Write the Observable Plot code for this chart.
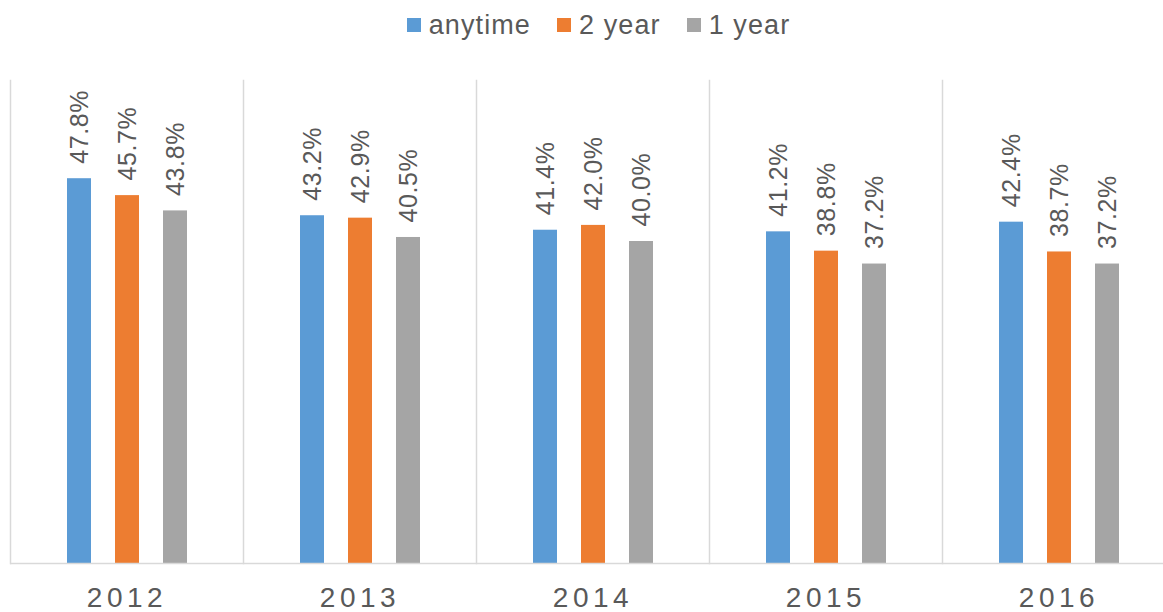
<!DOCTYPE html>
<html>
<head>
<meta charset="utf-8">
<script src="https://cdn.jsdelivr.net/npm/d3@7"></script>
<script src="https://cdn.jsdelivr.net/npm/@observablehq/plot@0.6"></script>
<style>
  html, body { margin: 0; padding: 0; background: #fff; overflow: hidden; }
  body { width: 1163px; height: 612px; font-family: "Liberation Sans", Arial, sans-serif; }
  #legend { height: 50px; display: flex; justify-content: center; align-items: center; color: #595959; font-size: 27px; letter-spacing: 1.1px; padding-left: 34px; box-sizing: border-box; }
  #legend .item { display: flex; align-items: center; margin: 0 13px; }
  #legend .sw { width: 14px; height: 14px; margin-right: 8px; }
  #chart svg { display: block; overflow: visible; }
  #chart g[aria-label="fx-axis tick label"] text { letter-spacing: 4.5px; }
  #chart g[aria-label="text"] text { letter-spacing: 0.6px; }
</style>
</head>
<body>
<div id="legend"></div>
<div id="chart"></div>
<script>
const years = ["2012", "2013", "2014", "2015", "2016"];
const seriesNames = ["anytime", "2 year", "1 year"];
const colors = ["#5B9BD5", "#ED7D31", "#A5A5A5"];
const anytime = [47.8, 43.2, 41.4, 41.2, 42.4];
const twoYear = [45.7, 42.9, 42.0, 38.8, 38.7];
const oneYear = [43.8, 40.5, 40.0, 37.2, 37.2];

const seriesValues = [anytime, twoYear, oneYear];
const data = [];
years.forEach((yr, i) => {
  seriesNames.forEach((s, j) => {
    data.push({year: yr, series: s, value: seriesValues[j][i]});
  });
});

// legend
const legend = document.getElementById("legend");
seriesNames.forEach((s, j) => {
  const item = document.createElement("div");
  item.className = "item";
  const sw = document.createElement("span");
  sw.className = "sw";
  sw.style.background = colors[j];
  const t = document.createElement("span");
  t.textContent = s;
  item.appendChild(sw);
  item.appendChild(t);
  legend.appendChild(item);
});

const chart = Plot.plot({
  width: 1163,
  height: 562,
  marginLeft: 9,
  marginRight: -12,
  marginTop: 30,
  marginBottom: 49,
  style: {fontFamily: "'Liberation Sans', Arial, sans-serif", background: "transparent"},
  fx: {domain: years, padding: 0, axis: null},
  x: {domain: seriesNames, axis: null, paddingInner: 0.505, paddingOuter: 1.15},
  y: {domain: [0, 60], axis: null},
  color: {domain: seriesNames, range: colors},
  marks: [
    Plot.frame({anchor: "left", stroke: "#d9d9d9", strokeWidth: 1.5}),
    Plot.barY(data, {fx: "year", x: "series", y: "value", fill: "series"}),
    Plot.ruleY([0], {stroke: "#d9d9d9", strokeWidth: 1.5}),
    Plot.text(data, {
      fx: "year", x: "series", y: "value",
      text: d => d.value.toFixed(1) + "%",
      rotate: -90, textAnchor: "start", lineAnchor: "middle",
      dy: -15, fontSize: 25, fill: "#595959"
    }),
    Plot.axisFx({anchor: "bottom", tickSize: 0, tickPadding: 24, fontSize: 28, fill: "#595959", label: null})
  ]
});
document.getElementById("chart").appendChild(chart);
</script>
</body>
</html>
